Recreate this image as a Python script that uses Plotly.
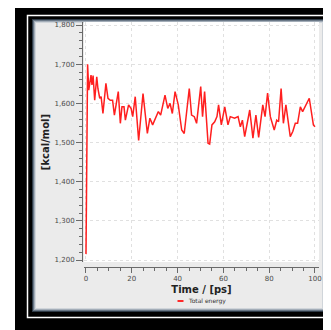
import plotly.graph_objects as go

# ---- data ----
time_ps = [0, 0.7, 1.2, 2.2, 2.6, 3.1, 3.8, 4.7, 5.2, 6.0, 6.6, 7.4, 8.7, 9.6, 10.6,
           11.6, 12.4, 13.5, 14.1, 15.0, 15.7, 16.6, 17.2, 18.6, 19.7, 20.4, 21.5,
           23.0, 24.9, 26.8, 27.9, 29.1, 30.1, 31.6, 32.6, 34.5, 35.7, 36.7, 37.7,
           38.9, 40.3, 41.8, 42.9, 45.1, 46.1, 47.3, 48.3, 50.1, 50.9, 51.8, 53.3,
           54.0, 55.0, 56.2, 57.2, 57.9, 59.1, 60.6, 62.0, 63.0, 64.9, 66.4, 67.4,
           68.3, 69.3, 71.5, 72.9, 74.2, 75.4, 77.2, 78.2, 79.3, 80.5, 82.2, 83.3,
           84.1, 85.2, 86.2, 87.3, 88.3, 89.2, 90.3, 91.4, 92.4, 93.6, 94.6, 96.1,
           97.5, 99.3, 100]
total_energy = [1215, 1700, 1634, 1672, 1647, 1671, 1608, 1668, 1638, 1613, 1617, 1574,
                1651, 1613, 1608, 1608, 1570, 1617, 1630, 1549, 1591, 1591, 1557, 1596,
                1587, 1566, 1617, 1505, 1625, 1523, 1562, 1545, 1557, 1579, 1570, 1621,
                1587, 1600, 1574, 1630, 1596, 1532, 1523, 1638, 1570, 1566, 1549, 1643,
                1566, 1630, 1498, 1496, 1545, 1553, 1566, 1596, 1545, 1591, 1545, 1566,
                1562, 1566, 1540, 1557, 1515, 1583, 1511, 1570, 1513, 1596, 1566, 1626,
                1566, 1532, 1557, 1553, 1638, 1549, 1596, 1553, 1515, 1528, 1549, 1549,
                1591, 1579, 1596, 1613, 1545, 1540]
series_name = "Total energy"
x_title = "Time / [ps]"
y_title = "[kcal/mol]"

# ---- geometry (page coordinates; the page body adds an 8px offset) ----
O = 8
W, H = 331 - O, 330 - O
L, R, T, B = 82 - O, 12, 22 - O, 330 - 267
PW, PH = W - L - R, H - T - B


def px(v):
    return (v - O - L) / PW


def py(v):
    return (H - B - (v - O)) / PH


def rect(x0, y0, x1, y1, fill=None, line=None, lw=0):
    d = dict(type="rect", xref="paper", yref="paper", layer="below",
             x0=px(x0), x1=px(x1), y0=py(y1), y1=py(y0))
    d["fillcolor"] = fill if fill else "rgba(0,0,0,0)"
    d["line"] = dict(color=line if line else "rgba(0,0,0,0)", width=lw)
    return d


shapes = [
    rect(15, 3, 345, 345, fill="#000000"),
    rect(27.5, 15.5, 345, 317.5, line="#ffffff", lw=1.5),
    rect(32, 19, 326, 312, fill="#2e3a46"),
    rect(33, 20, 325, 311, fill="#6a7887"),
    rect(34, 21, 324, 310, fill="#a3adb8"),
    rect(35, 22, 323, 309, fill="#d0d5da"),
    rect(36, 23, 322, 308, fill="#ebebeb"),
    rect(84, 22, 319, 262, fill="#ffffff"),
    dict(type="line", xref="paper", yref="paper", layer="below",
         x0=px(177.5), x1=px(183.5), y0=py(301), y1=py(301),
         line=dict(color="#ff2a2a", width=2)),
]

fig = go.Figure()
fig.add_trace(go.Scatter(x=time_ps, y=total_energy, mode="lines", name=series_name,
                         line=dict(color="#ff1f1f", width=1.5), showlegend=False))

axis_common = dict(showline=True, linecolor="#6a6a6a", linewidth=1,
                   ticks="outside", tickcolor="#6a6a6a", tickwidth=1,
                   showgrid=True, gridcolor="#e0e0e0", griddash="dot", gridwidth=1,
                   zeroline=False, automargin=False,
                   tickfont=dict(family="DejaVu Sans", size=7, color="#4a4a4a"))

fig.update_layout(
    width=W, height=H,
    margin=dict(l=L, r=R, t=T, b=B, pad=0),
    paper_bgcolor="#ffffff", plot_bgcolor="rgba(0,0,0,0)",
    showlegend=False,
    shapes=shapes,
    xaxis=dict(axis_common, domain=[px(84), 1], anchor="free", position=0,
               range=[-0.87, 101.75], tick0=0, dtick=20, ticklen=5,
               minor=dict(dtick=5, ticklen=3, tickcolor="#6a6a6a", showgrid=False),
               title=dict(text=x_title, standoff=3,
                          font=dict(family="DejaVu Sans", size=10, color="#222222",
                                    weight="bold"))),
    yaxis=dict(axis_common, domain=[py(262), 1], anchor="free", position=0,
               range=[1194.9, 1807.7], tick0=1200, dtick=100, ticklen=6,
               tickformat=",d",
               minor=dict(dtick=20, ticklen=3, tickcolor="#6a6a6a", showgrid=False),
               title=dict(text=y_title, standoff=2,
                          font=dict(family="DejaVu Sans", size=10, color="#222222",
                                    weight="bold"))),
    annotations=[dict(text=series_name, xref="paper", yref="paper",
                      x=px(186), y=py(301), xanchor="left", yanchor="middle",
                      showarrow=False,
                      font=dict(family="DejaVu Sans", size=6, color="#333333"))],
)

fig.write_html("out.html")
